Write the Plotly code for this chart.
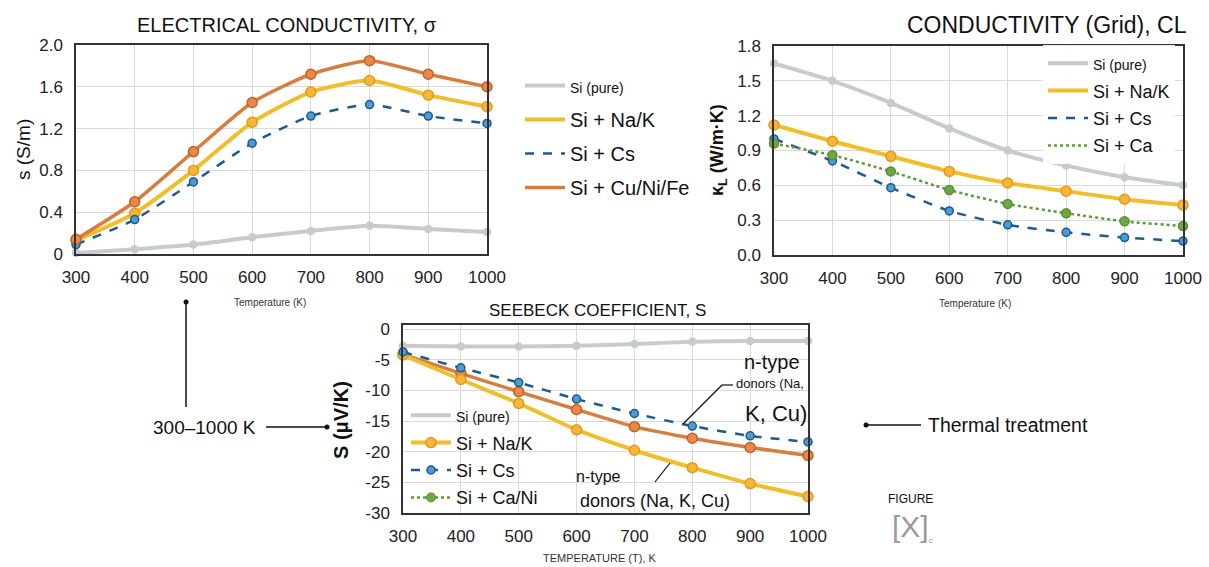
import plotly.graph_objects as go

W, H = 1209, 567
def px(x): return x / W
def py(y): return 1 - y / H

FONT = "Liberation Sans, Arial, sans-serif"

temps = [300, 400, 500, 600, 700, 800, 900, 1000]

sigma_pure = [0.01, 0.045, 0.09, 0.16, 0.22, 0.27, 0.24, 0.21]
sigma_nak = [0.13, 0.39, 0.80, 1.26, 1.55, 1.66, 1.52, 1.41]
sigma_cs = [0.09, 0.33, 0.69, 1.06, 1.32, 1.43, 1.32, 1.25]
sigma_cu = [0.14, 0.50, 0.98, 1.45, 1.72, 1.85, 1.72, 1.60]

kappa_pure = [1.65, 1.50, 1.31, 1.09, 0.90, 0.77, 0.67, 0.60]
kappa_nak = [1.12, 0.98, 0.85, 0.72, 0.62, 0.55, 0.48, 0.43]
kappa_cs = [1.00, 0.81, 0.58, 0.38, 0.26, 0.195, 0.15, 0.12]
kappa_ca = [0.96, 0.86, 0.72, 0.56, 0.44, 0.36, 0.29, 0.25]

seebeck_pure = [-2.7, -2.8, -2.8, -2.7, -2.4, -2.05, -1.9, -1.9]
seebeck_nak = [-4.2, -8.2, -12.1, -16.4, -19.75, -22.6, -25.2, -27.3]
seebeck_cs = [-3.7, -6.3, -8.7, -11.4, -13.75, -15.8, -17.4, -18.4]
seebeck_cu = [-4.1, -7.2, -10.2, -13.1, -15.9, -17.8, -19.3, -20.6]

sigma_ticks = [0, 0.4, 0.8, 1.2, 1.6, 2.0]
sigma_ticktext = ["0", "0.4", "0.8", "1.2", "1.6", "2.0"]
kappa_ticks = [0.0, 0.3, 0.6, 0.9, 1.2, 1.5, 1.8]
kappa_ticktext = ["0.0", "0.3", "0.6", "0.9", "1.2", "1.5", "1.8"]
seebeck_ticks = [0, -5, -10, -15, -20, -25, -30]
seebeck_ticktext = ["0", "-5", "-10", "-15", "-20", "-25", "-30"]
temp_ticks = temps

GRAY = "#C8CBCE"
YEL = "#F0BE2A"
ORG = "#D67E3E"
BLU = "#1E5B8A"
GRN = "#5E9A3A"

fig = go.Figure()
_gid = [0]

def add(x, y, xa, ya, color, width, dash, name, legend, msize, mfill, mline,
        legend_markers=False, showlegend=True):
    _gid[0] += 1
    grp = "g%d" % _gid[0]
    if legend_markers:
        fig.add_trace(go.Scatter(
            x=x, y=y, xaxis=xa, yaxis=ya, mode="lines+markers", name=name,
            legend=legend, legendgroup=grp, showlegend=showlegend, cliponaxis=False,
            line=dict(color=color, width=width, dash=dash, shape="spline", smoothing=0.6),
            marker=dict(size=msize, color=mfill, line=dict(color=mline, width=1.5))))
    else:
        fig.add_trace(go.Scatter(
            x=x, y=y, xaxis=xa, yaxis=ya, mode="lines", name=name,
            legend=legend, legendgroup=grp, showlegend=showlegend, cliponaxis=False,
            line=dict(color=color, width=width, dash=dash, shape="spline", smoothing=0.6)))
        fig.add_trace(go.Scatter(
            x=x, y=y, xaxis=xa, yaxis=ya, mode="markers", showlegend=False,
            legendgroup=grp, cliponaxis=False,
            marker=dict(size=msize, color=mfill, line=dict(color=mline, width=1.5))))

small = lambda s: '<span style="font-size:14px">%s</span>' % s

# Panel 1: electrical conductivity
add(temps, sigma_pure, "x", "y", GRAY, 4, "solid", small("Si (pure)"), "legend", 7, GRAY, GRAY)
add(temps, sigma_nak, "x", "y", YEL, 4, "solid", "Si + Na/K", "legend", 10, "#F6B739", "#E39A1C")
add(temps, sigma_cs, "x", "y", BLU, 2.5, "dash", "Si + Cs", "legend", 8, "#4E9AD3", BLU)
add(temps, sigma_cu, "x", "y", ORG, 3.5, "solid", "Si + Cu/Ni/Fe", "legend", 10, "#EB8848", "#C2622A")

# Panel 2: lattice thermal conductivity
add(temps, kappa_pure, "x2", "y2", GRAY, 4, "solid", small("Si (pure)"), "legend2", 7, GRAY, GRAY)
add(temps, kappa_nak, "x2", "y2", YEL, 4, "solid", "Si + Na/K", "legend2", 10, "#F6B739", "#E39A1C")
add(temps, kappa_cs, "x2", "y2", BLU, 2.5, "dash", "Si + Cs", "legend2", 8, "#4E9AD3", BLU)
add(temps, kappa_ca, "x2", "y2", GRN, 2.5, "dot", "Si + Ca", "legend2", 9, "#6FA646", "#5A8F36")

# Panel 3: Seebeck
add(temps, seebeck_pure, "x3", "y3", GRAY, 4, "solid", small("Si (pure)"), "legend3", 7, GRAY, GRAY)
add(temps, seebeck_cu, "x3", "y3", ORG, 3.5, "solid", "Si + Cu", "legend3", 10, "#EB8848", "#C2622A",
    showlegend=False)
add(temps, seebeck_nak, "x3", "y3", YEL, 4, "solid", "Si + Na/K", "legend3", 10, "#F6B739", "#E39A1C",
    legend_markers=True)
add(temps, seebeck_cs, "x3", "y3", BLU, 2.5, "dash", "Si + Cs", "legend3", 8, "#4E9AD3", BLU,
    legend_markers=True)
fig.add_trace(go.Scatter(
    x=[None], y=[None], xaxis="x3", yaxis="y3", mode="lines+markers", name="Si + Ca/Ni",
    legend="legend3", legendgroup="gca", line=dict(color=GRN, width=2.5, dash="dot"),
    marker=dict(size=9, color="#6FA646", line=dict(color="#5A8F36", width=1))))

tickfont = dict(family=FONT, size=17, color="#222")
def xax(dom, anchor):
    return dict(domain=dom, anchor=anchor, range=[300, 1000], tickvals=temp_ticks,
                tickfont=tickfont, showgrid=True, gridcolor="#DADADA", gridwidth=1,
                showline=True, linecolor="#333", linewidth=1.5, mirror=True,
                zeroline=False, ticks="", ticklabelstandoff=7)
def yax(dom, anchor, rng, tv, tt):
    return dict(domain=dom, anchor=anchor, range=rng, tickvals=tv, ticktext=tt,
                tickfont=tickfont, showgrid=True, gridcolor="#DADADA", gridwidth=1,
                showline=True, linecolor="#333", linewidth=1.5, mirror=True,
                zeroline=False, ticks="", ticklabelstandoff=8)

legfont = dict(family=FONT, size=20, color="#111")
fig.update_layout(
    width=W, height=H, margin=dict(l=0, r=0, t=0, b=0, autoexpand=False),
    paper_bgcolor="white", plot_bgcolor="white",
    font=dict(family=FONT, color="#111"),
    xaxis=xax([px(76), px(487)], "y"),
    yaxis=yax([py(254), py(45)], "x", [0, 2.0], sigma_ticks, sigma_ticktext),
    xaxis2=xax([px(774), px(1183)], "y2"),
    yaxis2=yax([py(255), py(46)], "x2", [0, 1.8], kappa_ticks, kappa_ticktext),
    xaxis3=xax([px(403), px(808)], "y3"),
    yaxis3=yax([py(513), py(325)], "x3", [-30, 0.7], seebeck_ticks, seebeck_ticktext),
    legend=dict(x=px(520), y=py(66), xanchor="left", yanchor="top",
                font=legfont, bgcolor="rgba(255,255,255,0)", tracegroupgap=5,
                itemwidth=40),
    legend2=dict(x=px(1043), y=py(45), xanchor="left", yanchor="top",
                 font=dict(family=FONT, size=18, color="#111"),
                 bgcolor="rgba(255,255,255,0.9)", tracegroupgap=1, itemwidth=40),
    legend3=dict(x=px(406), y=py(397), xanchor="left", yanchor="top",
                 font=dict(family=FONT, size=18, color="#111"),
                 bgcolor="rgba(255,255,255,0)", tracegroupgap=1, itemwidth=40),
)

ann = []
def text(x, y, s, size, color="#111", angle=0, xanchor="center", bold=False):
    if bold:
        s = "<b>%s</b>" % s
    ann.append(dict(x=px(x), y=py(y), xref="paper", yref="paper", text=s, showarrow=False,
                    xanchor=xanchor, yanchor="middle", textangle=angle,
                    font=dict(family=FONT, size=size, color=color)))

text(287, 25, "ELECTRICAL CONDUCTIVITY, σ", 20)
text(1047, 25, "CONDUCTIVITY (Grid), CL", 23)
text(597, 310, "SEEBECK COEFFICIENT, S", 17)
text(270, 302, "Temperature (K)", 10, "#333")
text(975, 303, "Temperature (K)", 10, "#333")
text(600, 558, "TEMPERATURE (T), K", 11, "#333")
text(23, 150, "s (S/m)", 19, angle=-90)
text(718, 150, "κ<sub>L</sub> (W/m·K)", 18, angle=-90, bold=True)
text(341, 420, "S (μV/K)", 20, angle=-90, bold=True)
text(772, 362, "n-type", 20)
text(770, 383, "donors (Na,", 13)
text(776, 413, "K, Cu)", 22)
text(598, 476, "n-type", 16)
text(655, 501, "donors (Na, K, Cu)", 18)
text(204, 427, "300–1000 K", 19)
text(1008, 425, "Thermal treatment", 19.5)
text(910, 499, "FIGURE", 12)
text(912, 527, "[X]<sub><span style='font-size:8px'>c</span></sub>", 30, "#9A9A9A")
fig.update_layout(annotations=ann)

shapes = []
def line(x0, y0, x1, y1, w=1.5):
    shapes.append(dict(type="line", xref="paper", yref="paper", x0=px(x0), y0=py(y0),
                       x1=px(x1), y1=py(y1), line=dict(color="#111", width=w)))
def dot(x, y, r=2.5):
    shapes.append(dict(type="circle", xref="paper", yref="paper", x0=px(x - r), x1=px(x + r),
                       y0=py(y + r), y1=py(y - r), fillcolor="#111", line=dict(width=0)))

# white box behind the upper-right annotation in the Seebeck panel
shapes.append(dict(type="rect", xref="paper", yref="paper", x0=px(722), x1=px(806),
                   y0=py(432), y1=py(340), fillcolor="white", line=dict(width=0), layer="below"))
# white box behind the legend of the Seebeck panel (hides grid lines, not data)
shapes.append(dict(type="rect", xref="paper", yref="paper", x0=px(406), x1=px(560),
                   y0=py(510), y1=py(405), fillcolor="white", line=dict(width=0), layer="below"))
line(722, 385, 733, 385, 1.2)
line(722, 385, 683, 424, 1.2)
line(655, 482, 670, 463, 1.2)
line(186, 302, 186, 407)
dot(186, 302)
line(266, 427, 327, 427)
dot(327, 427)
line(866, 425, 921, 425)
dot(866, 425)
fig.update_layout(shapes=shapes)

fig.write_html("out.html", config={"displayModeBar": False},
               post_script="document.body.style.margin='0';document.body.style.padding='0';")
